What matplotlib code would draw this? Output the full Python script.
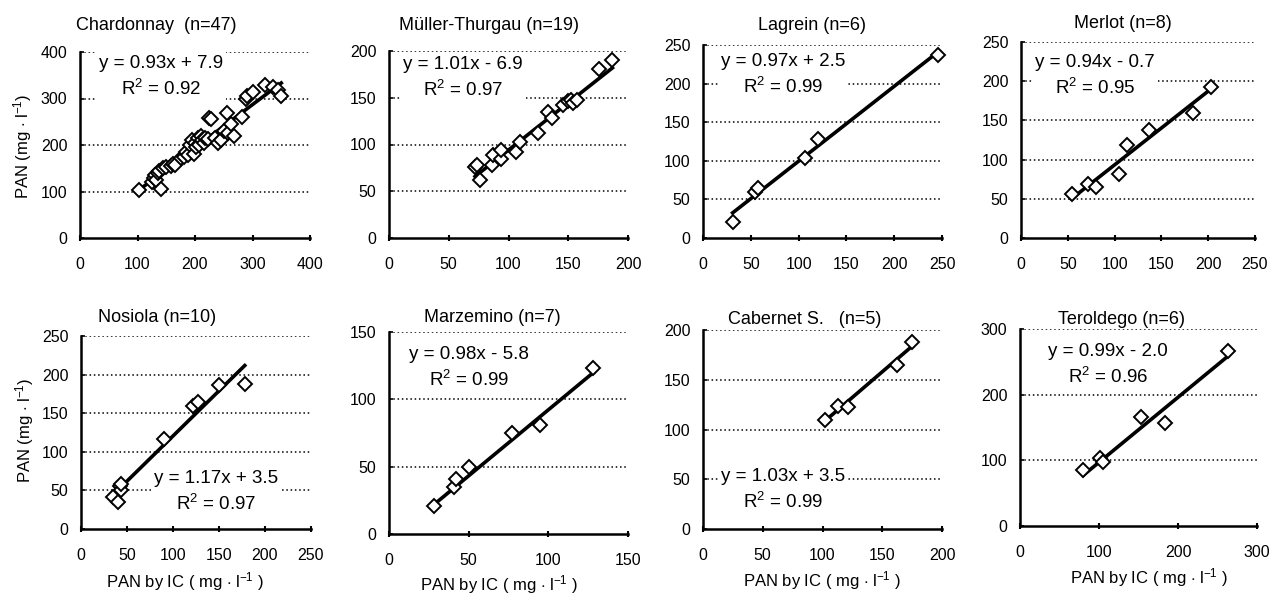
import numpy as np
import matplotlib
matplotlib.use("Agg")
import matplotlib.pyplot as plt

plt.rcParams['font.family'] = ['Liberation Sans', 'DejaVu Sans']
plt.rcParams['mathtext.fontset'] = 'custom'
plt.rcParams['mathtext.rm'] = 'Liberation Sans'
plt.rcParams['mathtext.it'] = 'Liberation Sans:italic'
plt.rcParams['mathtext.bf'] = 'Liberation Sans:bold'

# ---------------- data ----------------
titles = ["Chardonnay  (n=47)", "Müller-Thurgau (n=19)", "Lagrein (n=6)", "Merlot (n=8)",
          "Nosiola (n=10)", "Marzemino (n=7)", "Cabernet S.   (n=5)", "Teroldego (n=6)"]

chardonnay_x = [103, 125, 128, 130, 133, 135, 138, 140, 145, 150, 158, 162, 165, 175, 180, 185,
                188, 192, 195, 198, 200, 202, 205, 207, 210, 212, 215, 218, 222, 225, 228, 235,
                240, 245, 250, 255, 258, 262, 267, 282, 288, 290, 300, 322, 335, 345, 350]
chardonnay_y = [103, 120, 128, 135, 125, 140, 145, 106, 150, 152, 155, 160, 158, 172, 175, 185,
                178, 200, 210, 180, 205, 195, 215, 200, 220, 210, 205, 215, 212, 258, 255, 215,
                205, 210, 230, 268, 225, 245, 220, 260, 300, 305, 315, 328, 325, 318, 305]
muller_x = [72, 74, 76, 86, 87, 94, 94, 106, 110, 125, 133, 136, 146, 150, 152, 154, 157, 176, 187]
muller_y = [76, 78, 62, 78, 89, 85, 94, 92, 103, 112, 135, 128, 142, 146, 148, 144, 148, 181, 190]
lagrein_x = [31, 54, 58, 107, 120, 246]
lagrein_y = [21, 59, 65, 103, 128, 237]
merlot_x = [54, 72, 80, 105, 113, 137, 184, 203]
merlot_y = [56, 69, 65, 81, 118, 138, 159, 193]
nosiola_x = [35, 40, 42, 44, 43, 90, 122, 127, 150, 178]
nosiola_y = [42, 35, 56, 50, 58, 117, 159, 165, 187, 188]
marzemino_x = [28, 41, 42, 50, 77, 95, 128]
marzemino_y = [21, 35, 41, 50, 75, 81, 123]
cabernet_x = [102, 113, 121, 162, 175]
cabernet_y = [110, 124, 123, 165, 188]
teroldego_x = [80, 101, 105, 153, 184, 263]
teroldego_y = [86, 103, 98, 166, 157, 267]

slopes = [0.93, 1.01, 0.97, 0.94, 1.17, 0.98, 1.03, 0.99]
intercepts = [7.9, -6.9, 2.5, -0.7, 3.5, -5.8, 3.5, -2.0]
r2_values = [0.92, 0.97, 0.99, 0.95, 0.97, 0.99, 0.99, 0.96]

axis_max = [400, 200, 250, 250, 250, 150, 200, 300]
axis_step = [100, 50, 50, 50, 50, 50, 50, 100]

xs = [chardonnay_x, muller_x, lagrein_x, merlot_x, nosiola_x, marzemino_x, cabernet_x, teroldego_x]
ys = [chardonnay_y, muller_y, lagrein_y, merlot_y, nosiola_y, marzemino_y, cabernet_y, teroldego_y]

# ---------------- layout (pixels) ----------------
W, H = 1269, 594
axes_px = [(80, 310, 52, 238), (389, 628, 51, 238), (703, 942, 45, 238), (1021, 1255, 42, 238),
           (81, 311, 336, 529), (389, 628, 332, 534), (703, 942, 330, 529), (1020, 1257, 329, 526)]
title_px = [(156, 25), (489, 25), (812, 25), (1123, 24),
            (157, 318), (492, 318), (805, 319), (1122, 319)]
eq_px = [(161, 77), (463, 78), (783, 75), (1095, 76),
         (216, 492), (469, 368), (783, 490), (1108, 365)]
xlabel_px = [None, None, None, None, (185, 582), (499, 585), (822, 581), (1149, 578)]

fig = plt.figure(figsize=(W / 100, H / 100), dpi=100)

for i in range(8):
    l, r, t, b = axes_px[i]
    ax = fig.add_axes([l / W, 1 - b / H, (r - l) / W, (b - t) / H])
    mx, st = axis_max[i], axis_step[i]
    ticks = np.arange(0, mx + st / 2, st)
    ax.set_xlim(0, mx)
    ax.set_ylim(0, mx)
    ax.set_xticks(ticks)
    ax.set_yticks(ticks)
    for s in ['top', 'right']:
        ax.spines[s].set_visible(False)
    for s in ['left', 'bottom']:
        ax.spines[s].set_linewidth(1.8)
        ax.spines[s].set_color('black')
    ax.tick_params(axis='x', direction='inout', length=5, width=1.5, pad=11, labelsize=11.5)
    ax.tick_params(axis='y', direction='in', length=3, width=1.2, pad=9, labelsize=11.5)
    for v in ticks[1:]:
        ax.axhline(v, color='black', lw=1.1, linestyle=(0, (1, 1.8)), zorder=0.5)

    x = np.array(xs[i], dtype=float)
    y = np.array(ys[i], dtype=float)
    xl = np.array([x.min(), x.max()])
    ax.plot(xl, slopes[i] * xl + intercepts[i], color='black', lw=2.6, zorder=3)
    ax.plot(x, y, linestyle='none', marker='D', markersize=7, markerfacecolor='white',
            markeredgecolor='black', markeredgewidth=1.4, zorder=4, clip_on=False)

    sign = '+' if intercepts[i] >= 0 else '-'
    eq = f"y = {slopes[i]:.2f}x {sign} {abs(intercepts[i]):.1f}\nR$^{{2}}$ = {r2_values[i]:.2f}"
    ex, ey = eq_px[i]
    fig.text(ex / W, 1 - ey / H, eq, ha='center', va='center', multialignment='center',
             fontsize=13.5, linespacing=1.45, zorder=5,
             bbox=dict(facecolor='white', edgecolor='none', pad=2))

    tx, ty = title_px[i]
    fig.text(tx / W, 1 - ty / H, titles[i], ha='center', va='center', fontsize=13)

    if xlabel_px[i] is not None:
        lx, ly = xlabel_px[i]
        fig.text(lx / W, 1 - ly / H, r"PAN by IC ( mg $\cdot$ l$^{-1}$ )", ha='center', va='center',
                 fontsize=12)

for (cx, cy) in [(23, 146), (25, 430)]:
    fig.text(cx / W, 1 - cy / H, r"PAN (mg $\cdot$ l$^{-1}$)", ha='center', va='center',
             rotation=90, fontsize=12)

fig.savefig("out.png", dpi=100)
